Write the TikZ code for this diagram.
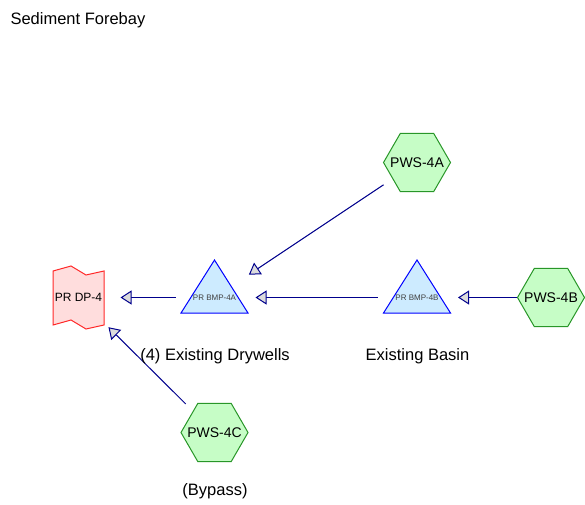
\documentclass[tikz,border=0pt]{standalone}
\usepackage{fontspec}
\setmainfont{Liberation Sans}
\usetikzlibrary{arrows.meta,calc,shapes.geometric}
\definecolor{hexfill}{RGB}{198,253,198}
\definecolor{hexline}{RGB}{40,150,40}
\definecolor{trifill}{RGB}{205,235,255}
\definecolor{triline}{RGB}{0,0,255}
\definecolor{dpfill}{RGB}{255,221,221}
\definecolor{dpline}{RGB}{255,40,40}
\definecolor{flowline}{RGB}{0,0,140}
\definecolor{tipfill}{RGB}{220,220,220}
\begin{document}
\begin{tikzpicture}[x=1pt,y=-1pt,
		line width=1pt,
		hex/.style={regular polygon, regular polygon sides=6, minimum size=67pt, inner sep=0pt,
			draw=hexline, fill=hexfill},
		hextext/.style={font=\fontsize{14}{16}\selectfont},
		tri/.style={draw=triline, fill=trifill},
		bmp/.style={inner sep=0pt, minimum width=46pt, minimum height=16pt,
			text=black!75, font=\fontsize{8}{9}\selectfont},
		dpshape/.style={draw=dpline, fill=dpfill},
		dpbox/.style={inner sep=0pt, minimum width=51pt, minimum height=63pt,
			font=\fontsize{12}{14}\selectfont},
		flow/.style={draw=flowline, -{Triangle[length=11pt,width=14pt,fill=tipfill]}},
		lbl/.style={anchor=base, inner sep=0pt, font=\fontsize{16.5}{19}\selectfont},
	]
	\useasboundingbox (0,0) rectangle (585,504);

	% basins
	\draw[tri] (214.5,260) -- (248,313) -- (181,313) -- cycle;
	\draw[tri] (417,260) -- (450.5,313) -- (383.5,313) -- cycle;
	\node[bmp] (bmpA) at (214.5,297.5) {PR BMP-4A};
	\node[bmp] (bmpB) at (417,297.5) {PR BMP-4B};

	% design point
	\draw[dpshape] (53,271) -- (71,266) -- (86,275) -- (104,271) -- (104,325)
		-- (86,329) -- (71,320) -- (53,325) -- cycle;
	\node[dpbox] (dp) at (78.5,297.5) {PR DP-4};

	% sub-watersheds
	\node[hex, label={[hextext]center:PWS-4A}] (pwsA) at (417,162.5) {};
	\node[hex, label={[hextext]center:PWS-4B}] (pwsB) at (551,297.5) {};
	\node[hex, label={[hextext]center:PWS-4C}] (pwsC) at (214.5,432.5) {};

	% flows
	\draw[flow, shorten >=17.5pt] (pwsB) -- (bmpB);
	\draw[flow, shorten <=16pt, shorten >=17.5pt] (bmpB) -- (bmpA);
	\draw[flow, shorten <=15.5pt, shorten >=16pt] (bmpA) -- (dp);
	\draw[flow, shorten <=10.6pt, shorten >=26pt] (pwsA) -- (bmpA);
	\draw[flow, shorten <=10pt, shorten >=5.6pt] (pwsC) -- (dp);

	% labels
	\node[lbl, anchor=base west] (title) at (10,24) {Sediment Forebay};
	\node[lbl] (drywells) at (215,360.7) {(4) Existing Drywells};
	\node[lbl] (basin) at (417.5,360.7) {Existing Basin};
	\node[lbl] (bypass) at (215,495.7) {(Bypass)};
\end{tikzpicture}
\end{document}
